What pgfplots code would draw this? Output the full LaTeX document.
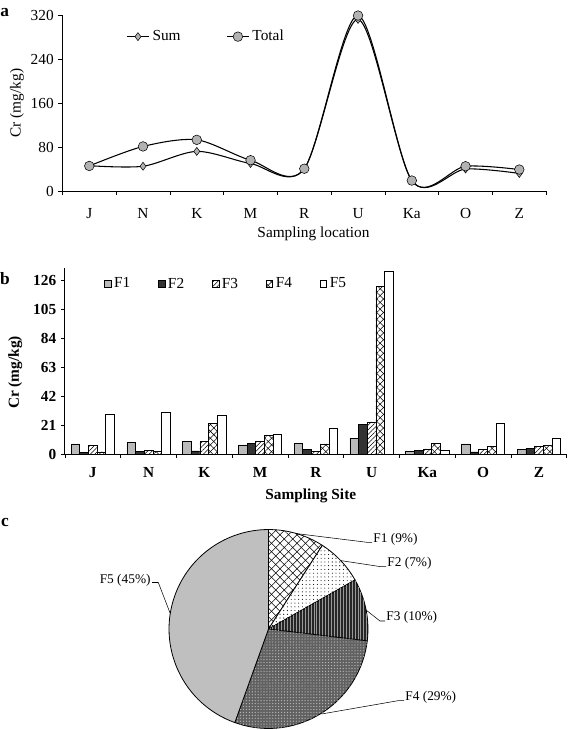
\documentclass[border=0pt]{standalone}
\usepackage{pgfplots}
\pgfplotsset{compat=1.18}
\usepackage{pgfplotstable}
\usepackage{fontspec}
\setmainfont{Liberation Serif}
\usetikzlibrary{patterns.meta}

\pgfplotstableread{
site F1   F2   F3   F4    F5
0    7.5  1.5  6.5  1.7   29.3
1    8.5  2.2  2.9  2.2   30.2
2    9.5  2.5  9.6  22.7  28.5
3    6.8  8.2  9.2  13.5  14.3
4    8.0  3.7  2.2  7.5   19.1
5    11.4 21.5 23.5 121.7 132.6
6    2.2  2.7  3.9  8.2   2.9
7    7.5  1.7  3.4  5.8   22.3
8    3.6  4.3  5.8  6.2   11.8
}\fractions

\newcommand{\tf}{\fontsize{11.5}{13.5}\selectfont}
\newcommand{\R}{74.6pt}
\newcommand{\slice}[3]{%
  \pgfmathsetmacro{\endang}{#1-3.6*#2}%
  \draw[line width=0.6pt,#3] (0,0) -- (#1:\R) arc[start angle=#1, end angle=\endang, radius=\R] -- cycle;}

\begin{document}
\begin{tikzpicture}[x=0.75pt,y=-0.75pt]
\pgfplotsset{/pgf/number format/assume math mode=true}

% ---------------- panel a ----------------
\begin{axis}[
  at={(46.8pt,-143.25pt)}, anchor=south west,
  scale only axis, width=362.85pt, height=132pt,
  font=\tf,
  xmin=-0.5, xmax=8.5, ymin=0, ymax=320,
  axis x line*=bottom, axis y line*=left, axis line style={-, line width=0.7pt},
  tick align=outside,
  xtick={-0.5,0.5,...,8.5}, xticklabels={},
  extra x ticks={0,...,8}, extra x tick labels={J,N,K,M,R,U,Ka,O,Z},
  extra x tick style={major tick length=0pt, xticklabel style={yshift=-9.5pt}},
  ytick={0,80,...,320},
  major tick length=3pt,
  tick style={black, line width=0.6pt},
  ylabel={Cr (mg/kg)}, xlabel={Sampling location},
  ylabel style={at={(axis description cs:-0.094,0.5)}, anchor=center},
  xlabel style={at={(axis description cs:0.519,-0.244)}, anchor=center},
  legend style={draw=none, fill=none, at={(0.131,0.877)}, anchor=west,
    inner sep=0pt, font=\tf,
    /tikz/every even column/.append style={column sep=32pt}},
  legend columns=2, legend cell align=left,
]
\addplot[black, line width=0.8pt, smooth, mark=diamond*, mark size=3pt,
  mark options={fill=black!30, line width=0.4pt}]
  coordinates {(0,46)(1,45)(2,72)(3,50)(4,40.5)(5,312)(6,19)(7,40)(8,32)};
\addlegendentry{Sum}
\addplot[black, line width=0.8pt, smooth, mark=*, mark size=3.6pt,
  mark options={fill=black!30, line width=0.4pt}]
  coordinates {(0,45.5)(1,81)(2,93)(3,56)(4,40.5)(5,319)(6,19)(7,45)(8,39)};
\addlegendentry{Total}
\end{axis}

% ---------------- panel b ----------------
\begin{axis}[
  at={(48.675pt,-340.725pt)}, anchor=south west,
  scale only axis, width=376.4pt, height=139.5pt,
  font=\tf,
  xmin=-0.5, xmax=8.5, ymin=0, ymax=135,
  ybar=0pt, bar width=6.5pt,
  axis x line*=bottom, axis y line*=left, axis line style={-, line width=0.7pt},
  tick align=outside,
  xtick={-0.5,0.5,...,8.5}, xticklabels={},
  extra x ticks={0,...,8}, extra x tick labels={J,N,K,M,R,U,Ka,O,Z},
  extra x tick style={major tick length=0pt, xticklabel style={yshift=-6pt}},
  ytick={0,21,...,126},
  major tick length=3pt,
  tick style={black, line width=0.6pt},
  ticklabel style={font=\tf\bfseries},
  ylabel={\bfseries Cr (mg/kg)}, xlabel={\bfseries Sampling Site},
  ylabel style={at={(axis description cs:-0.099,0.44)}, anchor=center},
  xlabel style={at={(axis description cs:0.49,-0.224)}, anchor=center},
  legend style={draw=none, fill=none, at={(0.078,0.916)}, anchor=west,
    inner sep=0pt, font=\tf,
    /tikz/every even column/.append style={column sep=19pt}},
  legend columns=5, legend cell align=left,
  legend image code/.code={\draw[#1] (0pt,-2.4pt) rectangle (4.8pt,2.4pt);},
  every axis plot/.append style={draw=black, line width=0.5pt},
]
\addplot[fill=black!27] table[x=site,y=F1] {\fractions};
\addlegendentry{F1}
\addplot[fill=black!80] table[x=site,y=F2] {\fractions};
\addlegendentry{F2}
\addplot[fill=white, postaction={pattern={Lines[angle=45,distance=2.4pt,line width=0.4pt]}}] table[x=site,y=F3] {\fractions};
\addlegendentry{F3}
\addplot[fill=white, postaction={pattern={Lines[angle=45,distance=3.6pt,line width=0.4pt]}},
  postaction={pattern={Lines[angle=-45,distance=3.6pt,line width=0.4pt]}}] table[x=site,y=F4] {\fractions};
\addlegendentry{F4}
\addplot[fill=white] table[x=site,y=F5] {\fractions};
\addlegendentry{F5}
\end{axis}

% ---------------- panel c (pie) ----------------
\begin{scope}[shift={(268.5,629)}]
\slice{90}{9.1}{fill=white, postaction={pattern={Lines[angle=45,distance=4.5pt,line width=0.4pt]}}, postaction={pattern={Lines[angle=-45,distance=4.5pt,line width=0.4pt]}}}
\slice{57.24}{7.7}{fill=white, postaction={pattern={Dots[distance=2.8pt,radius=0.4pt]}}}
\slice{29.52}{10.1}{fill=black!85, postaction={pattern={Lines[angle=90,distance=2.2pt,line width=0.5pt]}, pattern color=black!40}}
\slice{-6.84}{28.6}{fill=black!62, postaction={pattern={Dots[distance=2.2pt,radius=0.5pt]}, pattern color=black!28}}
\slice{-109.8}{44.5}{fill=black!25}
\end{scope}

\begin{scope}[font=\fontsize{10}{12}\selectfont, line width=0.4pt]
\draw (296.6,533.6) -- (367,542.3) -- (372,542.3);
\node[anchor=west, inner sep=0.5pt] at (372.5,539.3) {F1 (9\%)};
\draw (340.8,560.6) -- (381,566.7) -- (386,566.7);
\node[anchor=west, inner sep=0.5pt] at (386.5,563.3) {F2 (7\%)};
\draw (366,610) -- (380,621) -- (385,621);
\node[anchor=west, inner sep=0.5pt] at (385.5,617.3) {F3 (10\%)};
\draw (321.5,714) -- (398,700.7) -- (404,700.7);
\node[anchor=west, inner sep=0.5pt] at (404.5,697.7) {F4 (29\%)};
\draw (152,582.5) -- (158.3,582.5) -- (170.2,613.4);
\node[anchor=east, inner sep=0.5pt] at (151.5,580) {F5 (45\%)};
\end{scope}

% panel letters
\node[font=\fontsize{13}{15}\selectfont\bfseries] at (4.7,12.5) {a};
\node[font=\fontsize{13}{15}\selectfont\bfseries] at (5,279) {b};
\node[font=\fontsize{13}{15}\selectfont\bfseries] at (5,522) {c};

\pgfresetboundingbox
\path[use as bounding box] (0,0) rectangle (568,730);
\end{tikzpicture}
\end{document}
